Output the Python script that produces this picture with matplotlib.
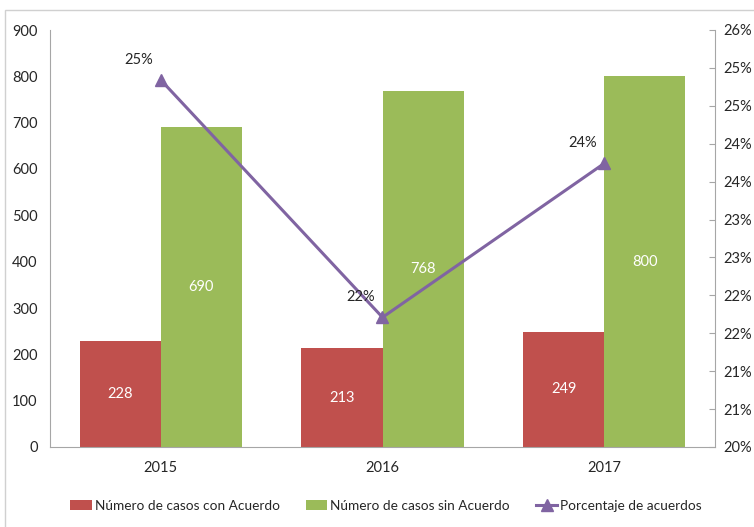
import matplotlib.pyplot as plt
from matplotlib.patches import Rectangle
import numpy as np

plt.rcParams['font.family'] = ['Lato', 'DejaVu Sans']

# Casos por año
years = ['2015', '2016', '2017']
con_acuerdo = [228, 213, 249]
sin_acuerdo = [690, 768, 800]
pct_acuerdos = [0.2484, 0.2171, 0.2374]
pct_labels = ['25%', '22%', '24%']
pct_ticks = [0.200, 0.205, 0.210, 0.215, 0.220, 0.225, 0.230,
             0.235, 0.240, 0.245, 0.250, 0.255]
pct_tick_labels = ['20%', '21%', '21%', '22%', '22%', '23%', '23%',
                   '24%', '24%', '25%', '25%', '26%']

red = '#C0504D'
green = '#9BBB59'
purple = '#8064A2'
axis_gray = '#A6A6A6'
txt = '#262626'
fs = 10.5

fig = plt.figure(figsize=(7.54, 5.27), dpi=100)
fig.patches.append(Rectangle((5 / 754, -0.1), 1.2, (527 - 10) / 527 + 0.1,
                             transform=fig.transFigure, fill=False,
                             edgecolor='#D0D0D0', linewidth=1))

ax = fig.add_axes([50 / 754, 80 / 527, 665 / 754, 417 / 527])
x = np.arange(len(years))
w = 0.366

b1 = ax.bar(x - w / 2, con_acuerdo, w, color=red, label='Número de casos con Acuerdo')
b2 = ax.bar(x + w / 2, sin_acuerdo, w, color=green, label='Número de casos sin Acuerdo')
ax.bar_label(b1, label_type='center', color='white', fontsize=fs)
ax.bar_label(b2, label_type='center', color='white', fontsize=fs)

ax.set_xlim(-0.5, len(years) - 0.5)
ax.set_ylim(0, 900)
ax.set_yticks(range(0, 901, 100))
ax.set_xticks(x, years)
ax.tick_params(axis='y', length=0, pad=9, labelsize=fs, labelcolor=txt)
ax.tick_params(axis='x', length=0, pad=10, labelsize=fs, labelcolor=txt)
for s in ['top', 'right']:
    ax.spines[s].set_visible(False)
for s in ['left', 'bottom']:
    ax.spines[s].set_color(axis_gray)

ax2 = ax.twinx()
line, = ax2.plot(x, pct_acuerdos, color=purple, linewidth=2.2, marker='^',
                 markersize=8, label='Porcentaje de acuerdos')
for xi, yi, lab in zip(x, pct_acuerdos, pct_labels):
    ax2.annotate(lab, (xi, yi), xytext=(-22, 20), textcoords='offset pixels',
                 ha='center', va='center', fontsize=fs, color=txt)
ax2.set_ylim(0.20, 0.255)
ax2.set_yticks(pct_ticks, pct_tick_labels)
ax2.tick_params(axis='y', direction='in', length=4, pad=6, labelsize=fs,
                labelcolor=txt, color=axis_gray)
for s in ['top', 'left', 'bottom']:
    ax2.spines[s].set_visible(False)
ax2.spines['right'].set_color(axis_gray)

handles = [b1, b2, line]
fig.legend(handles, [h.get_label() for h in handles], loc='center',
           bbox_to_anchor=(386 / 754, 1 - 506 / 527), ncol=3, frameon=False,
           fontsize=9.8, handlelength=1.6, handletextpad=0.2, columnspacing=1.9,
           labelcolor=txt)

fig.savefig('out.png', dpi=100)
